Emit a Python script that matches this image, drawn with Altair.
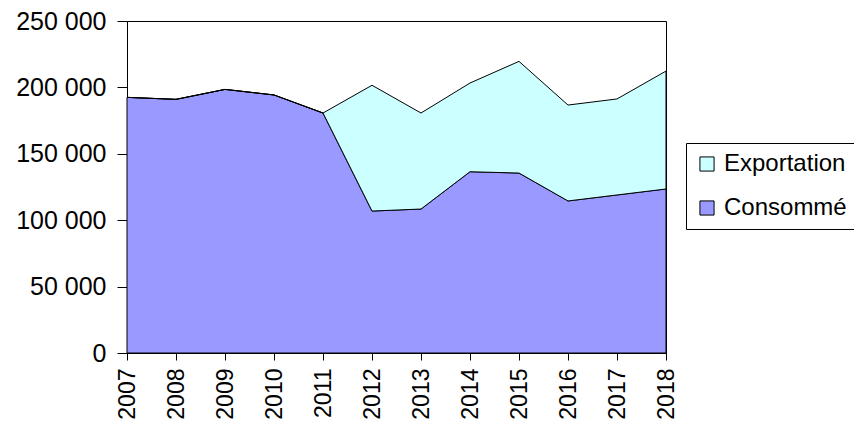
import altair as alt
import pandas as pd

years = [2007, 2008, 2009, 2010, 2011, 2012, 2013, 2014, 2015, 2016, 2017, 2018]
consomme = [192500, 191000, 198500, 194300, 180700, 106900, 108400, 136500, 135500, 114500, 119000, 123500]
exportation = [0, 0, 0, 0, 0, 94700, 72300, 66800, 84100, 72200, 72300, 88800]
series = ["Exportation", "Consommé"]
colors = ["#CCFFFF", "#9999FF"]
y_ticks = [0, 50000, 100000, 150000, 200000, 250000]

rows = []
for i, yr in enumerate(years):
    rows.append({"Année": yr, "Série": "Consommé", "Valeur": consomme[i], "ordre": 0})
    rows.append({"Année": yr, "Série": "Exportation", "Valeur": exportation[i], "ordre": 1})
df = pd.DataFrame(rows)

FONT = "Liberation Sans"

chart = alt.Chart(df).mark_area(
    stroke="black", strokeWidth=1, opacity=1, fillOpacity=1
).encode(
    x=alt.X("Année:Q",
            scale=alt.Scale(domain=[2007, 2018], nice=False, zero=False),
            axis=alt.Axis(values=years, format="d", labelAngle=270, title=None,
                          grid=False, tickSize=7, labelPadding=8,
                          labelFontSize=23, labelFont=FONT, labelColor="black",
                          domainColor="black", tickColor="black",
                          labelOverlap=False, labelFlush=False)),
    y=alt.Y("Valeur:Q", stack="zero",
            scale=alt.Scale(domain=[0, 250000], nice=False),
            axis=alt.Axis(values=y_ticks, title=None, grid=False, tickSize=10,
                          labelPadding=11, labelFontSize=25, labelFont=FONT,
                          labelColor="black", domainColor="black", tickColor="black",
                          labelExpr="datum.value == 0 ? '0' : floor(datum.value/1000) + ' 000'")),
    color=alt.Color("Série:N",
                    scale=alt.Scale(domain=series, range=colors),
                    legend=alt.Legend(title=None, orient="none", legendX=559, legendY=122,
                                      strokeColor="black", fillColor="white", padding=9,
                                      rowPadding=20, symbolType="square", symbolSize=200,
                                      symbolStrokeColor="black", symbolStrokeWidth=1,
                                      symbolOpacity=1, labelFontSize=24, labelFont=FONT,
                                      labelColor="black", labelOffset=5)),
    order=alt.Order("ordre:Q")
).properties(
    width=539, height=332,
    autosize=alt.AutoSizeParams(type="none"),
    padding={"left": 119, "top": 13, "right": 188, "bottom": 66}
).configure_view(stroke="black", strokeWidth=1)

chart.save("out.html", embed_options={"renderer": "svg", "actions": False})
